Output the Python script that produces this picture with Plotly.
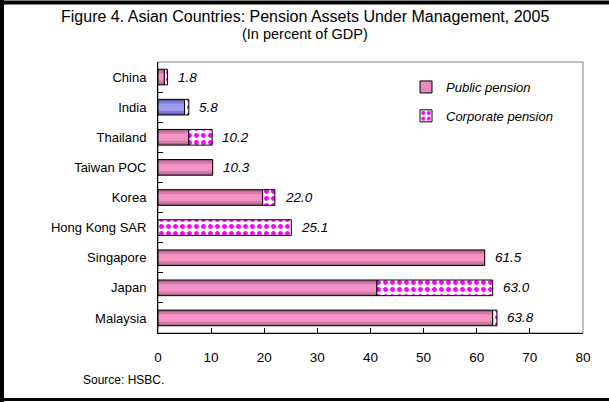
import plotly.graph_objects as go

# ---- data ----
countries = ["China", "India", "Thailand", "Taiwan POC", "Korea",
             "Hong Kong SAR", "Singapore", "Japan", "Malaysia"]
public_pension = [1.2, 5.0, 5.8, 10.3, 19.7, 0.0, 61.5, 41.2, 63.0]
corporate_pension = [0.6, 0.8, 4.4, 0.0, 2.3, 25.1, 0.0, 21.8, 0.8]
totals = [1.8, 5.8, 10.2, 10.3, 22.0, 25.1, 61.5, 63.0, 63.8]
x_ticks = [0, 10, 20, 30, 40, 50, 60, 70, 80]
title_lines = ["Figure 4. Asian Countries: Pension Assets Under Management, 2005",
               "(In percent of GDP)"]

# ---- layout geometry ----
W, H = 609, 402
L, R, T, B = 158, 26, 62, 69
PW, PH = W - L - R, H - T - B


def px_x(p):
    return (p - L) / PW


def px_y(p):
    return (H - B - p) / PH


FONT = "Arial, Liberation Sans, sans-serif"

pink = ["#a8648a", "#d27aa8", "#f593c4"]
blue = ["#5c5cae", "#7c7cd8", "#9c9cf4"]
widths = [0.52, 0.40, 0.24]


def nz(vals):
    return [v if v else None for v in vals]


pub = nz(public_pension)
corp = nz(corporate_pension)

fig = go.Figure()

# public pension: layered fills to imitate the cylinder shading
for i, wdt in enumerate(widths):
    cols = [blue[i] if c == "India" else pink[i] for c in countries]
    fig.add_trace(go.Bar(
        x=pub, y=countries, orientation="h", width=wdt,
        marker=dict(color=cols, line=dict(width=0)),
        showlegend=False, hoverinfo="skip"))

# outline for public bars
fig.add_trace(go.Bar(
    x=pub, y=countries, orientation="h", width=widths[0],
    marker=dict(color="rgba(0,0,0,0)", line=dict(color="black", width=1)),
    showlegend=False, hoverinfo="skip"))

# legend carrier for public pension
fig.add_trace(go.Bar(
    x=[None], y=[countries[0]], orientation="h",
    name="<i>Public pension</i>", legendgroup="pub",
    marker=dict(color="#e88ab8", line=dict(color="black", width=1))))

# corporate pension (stacked on public)
fg = ["#5c5cd8" if c == "India" else "#ff00ff" for c in countries]
fig.add_trace(go.Bar(
    x=corp, y=countries, base=public_pension, orientation="h", width=widths[0],
    name="<i>Corporate pension</i>", legendgroup="corp",
    marker=dict(color="white", line=dict(color="black", width=1),
                pattern=dict(shape=".", fgcolor=fg, bgcolor="white",
                             size=7, solidity=0.4, fillmode="replace"))))

annotations = []
for c, t in zip(countries, totals):
    annotations.append(dict(
        x=t, y=c, xref="x", yref="y", text=f"<i>{t:.1f}</i>",
        showarrow=False, xanchor="left", yanchor="middle", xshift=8,
        font=dict(family=FONT, size=13.5, color="black")))

for line, ypx, fs in zip(title_lines, [16, 34], [16, 14.5]):
    annotations.append(dict(
        x=px_x(W / 2), y=px_y(ypx), xref="paper", yref="paper", text=line,
        showarrow=False, xanchor="center", yanchor="middle",
        font=dict(family=FONT, size=fs, color="black")))

annotations.append(dict(
    x=px_x(81), y=px_y(380), xref="paper", yref="paper",
    text="Source: HSBC.", showarrow=False, xanchor="left", yanchor="middle",
    font=dict(family=FONT, size=12, color="black")))

shapes = [
    # plot area border
    dict(type="rect", xref="paper", yref="paper", x0=0, x1=1, y0=0, y1=1,
         line=dict(color="#808080", width=1), layer="below"),
    # outer frame
    dict(type="line", xref="paper", yref="paper",
         x0=px_x(2), x1=px_x(2), y0=px_y(0), y1=px_y(402),
         line=dict(color="black", width=4)),
    dict(type="line", xref="paper", yref="paper",
         x0=px_x(0), x1=px_x(609), y0=px_y(2.5), y1=px_y(2.5),
         line=dict(color="black", width=4), layer="above"),
    dict(type="line", xref="paper", yref="paper",
         x0=px_x(0), x1=px_x(609), y0=px_y(399.5), y1=px_y(399.5),
         line=dict(color="black", width=3)),
]

fig.update_layout(
    width=W, height=H,
    margin=dict(l=L, r=R, t=T, b=B, pad=0),
    paper_bgcolor="white", plot_bgcolor="white",
    barmode="overlay",
    font=dict(family=FONT, size=13, color="black"),
    legend=dict(x=px_x(406), y=px_y(72), xanchor="left", yanchor="top",
                bgcolor="rgba(0,0,0,0)", traceorder="grouped",
                tracegroupgap=9, font=dict(family=FONT, size=13)),
    xaxis=dict(range=[0, 80], tickvals=x_ticks, showgrid=False, zeroline=False,
               showline=True, linecolor="black", linewidth=1,
               ticks="inside", ticklen=5, tickcolor="black",
               ticklabelstandoff=12, tickfont=dict(size=13.5)),
    yaxis=dict(type="category", categoryorder="array", categoryarray=countries,
               autorange="reversed", showgrid=False, zeroline=False,
               showline=True, linecolor="black", linewidth=1,
               ticks="inside", ticklen=5, tickcolor="black",
               tickson="boundaries", ticklabelstandoff=8,
               tickfont=dict(size=13)),
    annotations=annotations,
    shapes=shapes,
)

fig.write_html(
    "out.html",
    config={"displayModeBar": False},
    post_script="document.body.style.margin='0';"
                "document.body.style.overflow='hidden';"
                "document.documentElement.style.overflow='hidden';",
)
